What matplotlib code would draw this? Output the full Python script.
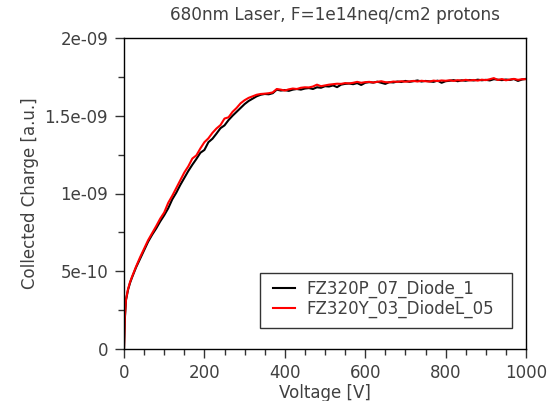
import matplotlib
matplotlib.use("Agg")
import matplotlib.pyplot as plt
from matplotlib.patches import Rectangle
from matplotlib.ticker import MultipleLocator

# Bias voltage scan points [V]
voltage = [0, 2, 5, 10, 15] + list(range(20, 1001, 10))

# Collected charge [1e-9 a.u.] for FZ320P_07_Diode_1
charge_p07 = [
    0.000, 0.190, 0.315, 0.380, 0.425,
    0.460, 0.525, 0.580, 0.635, 0.690, 0.735, 0.775, 0.820, 0.860, 0.905,
    0.962, 1.005, 1.055, 1.100, 1.145, 1.185, 1.222, 1.262, 1.280, 1.330,
    1.352, 1.385, 1.420, 1.438, 1.472, 1.500, 1.525, 1.550, 1.575, 1.595,
    1.610, 1.625, 1.635, 1.640, 1.638, 1.645, 1.668, 1.662, 1.665, 1.660,
    1.668, 1.672, 1.668, 1.675, 1.678, 1.672, 1.683, 1.680, 1.690, 1.688,
    1.695, 1.684, 1.700, 1.705, 1.707, 1.703, 1.710, 1.698, 1.712, 1.716,
    1.713, 1.719, 1.712, 1.705, 1.716, 1.714, 1.720, 1.717, 1.724, 1.718,
    1.722, 1.727, 1.720, 1.724, 1.721, 1.718, 1.726, 1.712, 1.722, 1.725,
    1.729, 1.722, 1.728, 1.725, 1.730, 1.727, 1.732, 1.728, 1.731, 1.727,
    1.735, 1.732, 1.729, 1.733, 1.730, 1.736, 1.724, 1.733, 1.737,
]

# Collected charge [1e-9 a.u.] for FZ320Y_03_DiodeL_05
charge_y03 = [
    0.000, 0.200, 0.320, 0.385, 0.430,
    0.465, 0.530, 0.590, 0.645, 0.700, 0.745, 0.790, 0.838, 0.878, 0.940,
    0.985, 1.035, 1.085, 1.135, 1.175, 1.225, 1.245, 1.290, 1.330, 1.355,
    1.390, 1.418, 1.440, 1.482, 1.490, 1.525, 1.550, 1.580, 1.600, 1.615,
    1.625, 1.635, 1.640, 1.642, 1.645, 1.650, 1.672, 1.668, 1.662, 1.670,
    1.675, 1.672, 1.680, 1.683, 1.682, 1.688, 1.700, 1.690, 1.695, 1.700,
    1.703, 1.706, 1.705, 1.710, 1.708, 1.712, 1.718, 1.712, 1.716, 1.718,
    1.714, 1.718, 1.722, 1.716, 1.715, 1.720, 1.718, 1.722, 1.719, 1.721,
    1.724, 1.720, 1.725, 1.722, 1.720, 1.726, 1.723, 1.727, 1.725, 1.728,
    1.724, 1.729, 1.726, 1.731, 1.727, 1.730, 1.726, 1.732, 1.729, 1.735,
    1.742, 1.730, 1.736, 1.728, 1.733, 1.737, 1.731, 1.735, 1.735,
]

labels = ["FZ320P_07_Diode_1", "FZ320Y_03_DiodeL_05"]
colors = ["black", "#ff0000"]
title = "680nm Laser, F=1e14neq/cm2 protons"
y_ticks = [0, 5e-10, 1e-09, 1.5e-09, 2e-09]
y_tick_labels = ["0", "5e-10", "1e-09", "1.5e-09", "2e-09"]

txt = "#404040"
fs = 12
plt.rcParams["font.family"] = "DejaVu Sans"

fig = plt.figure(figsize=(5.51, 4.01), dpi=100)
W, H = 551, 401


def fx(px):
    return px / W


def fy(py):
    return 1 - py / H


ax = fig.add_axes([fx(124), fy(349), fx(526 - 124), (349 - 38) / H])

for q, lab, c in zip([charge_p07, charge_y03], labels, colors):
    ax.plot(voltage, [v * 1e-9 for v in q], color=c, lw=1.5, label=lab)

ax.set_xlim(0, 1000)
ax.set_ylim(0, 2e-9)
ax.xaxis.set_major_locator(MultipleLocator(200))
ax.xaxis.set_minor_locator(MultipleLocator(50))
ax.set_yticks(y_ticks)
ax.set_yticklabels(y_tick_labels)
ax.yaxis.set_minor_locator(MultipleLocator(2.5e-10))

ax.tick_params(which="major", direction="out", length=6.5, width=1,
               color="#333333", labelsize=fs, labelcolor=txt)
ax.tick_params(axis="y", which="major", pad=5)
ax.tick_params(axis="x", which="major", pad=4.5)
ax.tick_params(which="minor", direction="out", length=4, width=1,
               color="#333333")
for s in ax.spines.values():
    s.set_color("black")
    s.set_linewidth(1)

ax.set_xlabel("Voltage [V]", fontsize=fs, color=txt, labelpad=1.5)
ax.set_ylabel("Collected Charge [a.u.]", fontsize=fs, color=txt, labelpad=4)
fig.text(fx(335.5), fy(15), title, ha="center", va="center",
         fontsize=12.2, color=txt)

# Legend entries, with a plain rectangular frame drawn around them
ax.add_patch(Rectangle((fx(260), fy(328)), fx(512 - 260), (328 - 273) / H,
                       transform=fig.transFigure, facecolor="white",
                       edgecolor="#333333", linewidth=1, zorder=4,
                       clip_on=False))
leg = ax.legend(loc="upper left", bbox_to_anchor=(fx(273), fy(280)),
                bbox_transform=fig.transFigure, fontsize=fs, frameon=False,
                handlelength=1.32, handletextpad=0.66, borderpad=0,
                borderaxespad=0, labelspacing=0.1)
leg.set_zorder(5)
for t in leg.get_texts():
    t.set_color(txt)

fig.savefig("out.png", dpi=100)
